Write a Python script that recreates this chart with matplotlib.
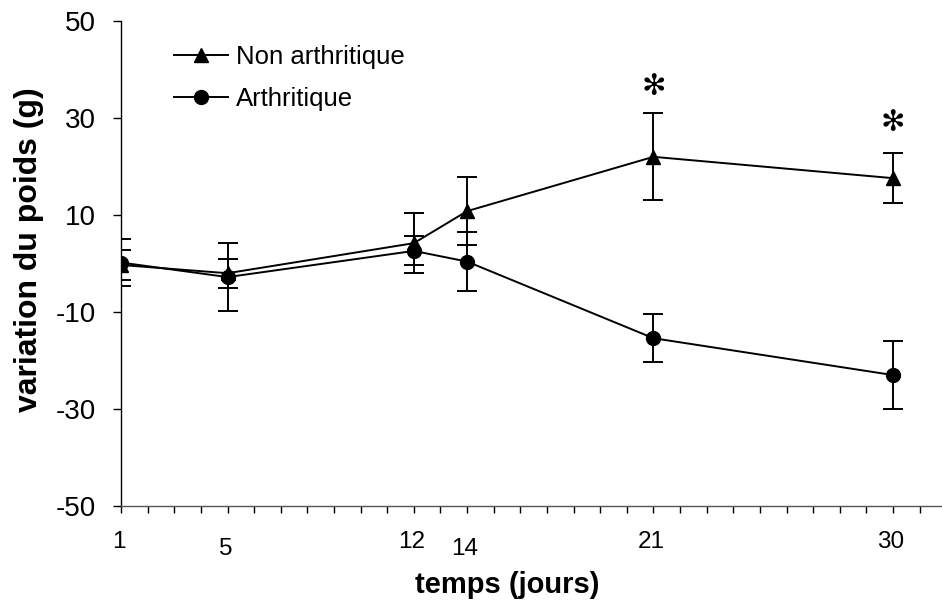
import matplotlib
matplotlib.use("Agg")
import matplotlib.pyplot as plt

# Data
days = [1, 5, 12, 14, 21, 30]
non_arth = [-0.3, -2.0, 4.2, 10.8, 22.0, 17.6]
non_arth_err = [3.0, 3.0, 6.2, 7.0, 9.0, 5.1]
arth = [0.2, -2.8, 2.6, 0.4, -15.4, -23.0]
arth_err = [4.9, 7.0, 3.0, 6.0, 4.9, 7.0]
signif_days = [21, 30]
signif_y = [36.4, 29.0]
tick_days = [1, 5, 12, 14, 21, 30]
low_labels = [5, 14]  # staggered labels

plt.rcParams['font.family'] = ['Liberation Sans', 'DejaVu Sans']
plt.rcParams['axes.unicode_minus'] = False

fig = plt.figure(figsize=(9.42, 6.06), dpi=100)
ax = fig.add_axes([0.1285, 0.165, 0.876, 0.8003])

# error bars + lines
ax.errorbar(days, arth, yerr=arth_err, color="black", lw=1.4, elinewidth=1.4,
            capsize=7.5, capthick=1.4, marker="o", ms=10, label="Arthritique", zorder=3)
ax.errorbar(days, non_arth, yerr=non_arth_err, color="black", lw=1.4, elinewidth=1.4,
            capsize=7.5, capthick=1.4, marker="^", ms=10.5, label="Non arthritique", zorder=4)

# significance stars
for d, y in zip(signif_days, signif_y):
  ax.text(d, y, "\u273b", ha="center", va="center", fontsize=21, family="DejaVu Sans")

ax.set_xlim(1, 32)
ax.set_ylim(-50, 50)
ax.set_yticks(range(-50, 51, 20))
ax.set_xticks(range(1, 33))
ax.set_xticklabels([""] * 32)
# day labels, some of them dropped a bit lower like in the original
for d in tick_days:
  ax.annotate(str(d), xy=(d, 0), xycoords=("data", "axes fraction"),
              xytext=(-2, -36 if d not in low_labels else -43), textcoords="offset pixels",
              ha="center", va="center", fontsize=17.5, annotation_clip=False)

ax.tick_params(axis="y", direction="out", length=6, width=1, labelsize=20, pad=12)
ax.tick_params(axis="x", direction="out", length=5, width=1)
for s in ["top", "right"]:
  ax.spines[s].set_visible(False)
ax.spines["left"].set_linewidth(1)
ax.spines["bottom"].set_linewidth(1)
ax.spines["bottom"].set_color("#555555")

ax.set_ylabel("variation du poids (g)", fontsize=23, fontweight="bold")
ax.yaxis.label.set_va("center")
ax.yaxis.set_label_coords(-0.111, 0.528)
ax.set_xlabel("temps (jours)", fontsize=21, fontweight="bold")
ax.xaxis.label.set_va("center")
ax.xaxis.set_label_coords(0.468, -0.163)

handles, labels = ax.get_legend_handles_labels()
handles = [h[0] for h in handles[::-1]]
labels = labels[::-1]
ax.legend(handles, labels, loc="upper left", bbox_to_anchor=(0.036, 0.998), frameon=False,
          fontsize=18.5, handlelength=2.1, handletextpad=0.3, labelspacing=0.7)

fig.savefig("out.png", dpi=100)
